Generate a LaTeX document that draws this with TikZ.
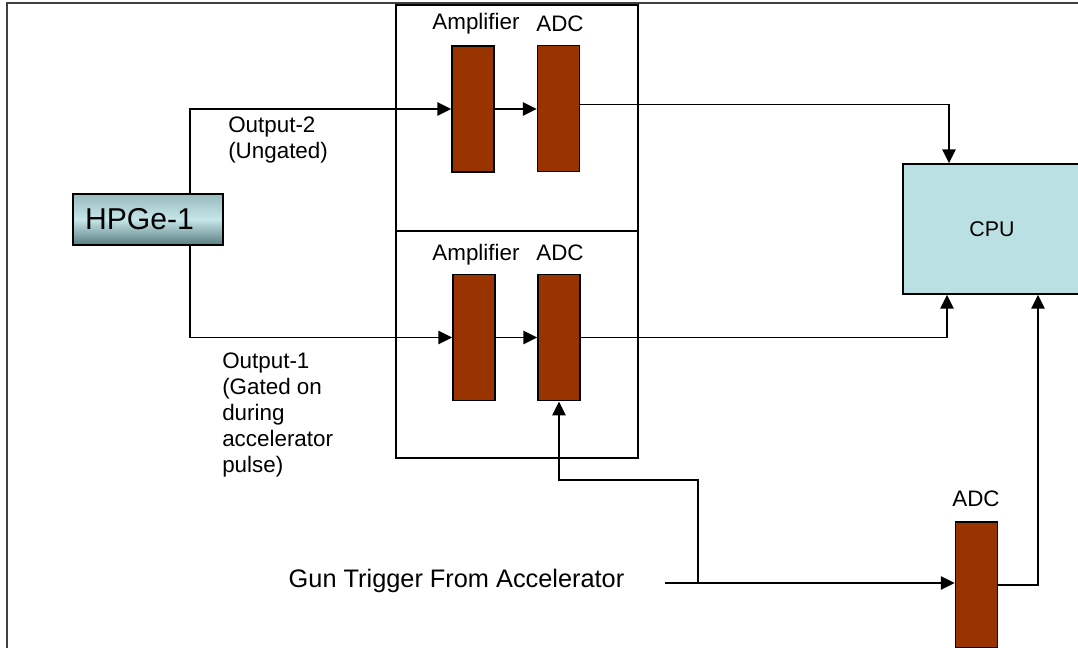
\documentclass[tikz,border=0pt]{standalone}
\usepackage{fontspec}
\setmainfont{Liberation Sans}
\usetikzlibrary{arrows.meta}
\definecolor{brownbox}{HTML}{993300}
\definecolor{cpucol}{HTML}{BBE0E3}
\definecolor{hptop}{HTML}{98BBBF}
\definecolor{hpmid}{HTML}{C6E6E9}
\definecolor{hpbot}{HTML}{587C80}
\tikzset{
  conn/.style={line width=1.4pt, draw=black},
  arr/.style={conn, -{Triangle[length=10.5pt,width=10pt]}},
  frame/.style={line width=1.3pt, draw=black},
  blk/.style={draw=black, line width=1.1pt, fill=brownbox, inner sep=0pt, minimum width=31.5pt, minimum height=94.8pt},
  lbl/.style={font=\fontsize{16.8}{19.5}\selectfont, inner sep=0pt},
}
\begin{document}
\begin{tikzpicture}[x=0.75pt,y=-0.75pt]
\useasboundingbox (0,0) rectangle (1078,647);
\begin{scope}
\clip (0,0) rectangle (1078,647);
% outer frame
\draw[line width=1.5pt, draw=black!75] (7,648) -- (7,3) -- (1085,3);
% group boxes
\node[frame, draw, minimum width=181.5pt, minimum height=169.5pt, inner sep=0pt] (box1) at (517,118) {};
\node[frame, draw, minimum width=181.5pt, minimum height=170.25pt, inner sep=0pt] (box2) at (517,344.5) {};
% blocks
\node[blk] (amp1) at (473,109) {};
\node[blk] (adc1) at (558.5,108.5) {};
\node[blk] (amp2) at (474,337.5) {};
\node[blk] (adc2) at (559,337.5) {};
\node[blk] (adc3) at (976.5,585) {};
% labels
\node[lbl] (lamp1) at (476,24) {Amplifier};
\node[lbl] (ladc1) at (560,24) {ADC};
\node[lbl] (lamp2) at (476,255) {Amplifier};
\node[lbl] (ladc2) at (560,253) {ADC};
\node[lbl] (ladc3) at (976,499) {ADC};
% CPU
\node[draw=black, line width=1.1pt, fill=cpucol, minimum width=133.5pt, minimum height=97.5pt, inner sep=0pt,
      font=\fontsize{16}{19}\selectfont] (cpu) at (992,229) {CPU};
% HPGe
\node[draw=black, line width=1.1pt, top color=hptop, bottom color=hpbot, middle color=hpmid,
      minimum width=112.5pt, minimum height=38.25pt, inner sep=0pt] (hpge) at (148,219.5) {};
\node[font=\fontsize{22.6}{26}\selectfont, inner sep=0pt] (hpgelbl) at (139.5,219.5) {HPGe-1};
% text labels
\node[lbl, anchor=west, align=left] (out2) at (228,140) {Output-2\\(Ungated)};
\node[lbl, anchor=west, align=left] (out1) at (222,415) {Output-1\\(Gated on\\during\\accelerator\\pulse)};
\node[font=\fontsize{19}{23}\selectfont, inner sep=0pt] (gun) at (456.5,581) {Gun Trigger From Accelerator};
\coordinate (trig) at (665,583);
\coordinate (tj) at (698,583);
% connectors
\draw[arr] ([xshift=31.5pt]hpge.north) |- (amp1.west);
\draw[arr] ([xshift=31.5pt]hpge.south) |- (amp2.west);
\draw[arr] (amp1.east) -- (amp1.east -| adc1.west);
\draw[arr] (amp2.east) -- (amp2.east -| adc2.west);
\draw[arr] ([yshift=3pt]adc1.east) -| ([xshift=-32.25pt]cpu.north);
\draw[arr] (adc2.east) -| ([xshift=-33.75pt]cpu.south);
\draw[arr] (adc3.east) -| ([xshift=34.5pt]cpu.south);
\draw[arr] (trig) -- (trig -| adc3.west);
\draw[arr] (tj) |- (adc2.south |- 0,480) -- (adc2.south);
\end{scope}
\end{tikzpicture}
\end{document}
